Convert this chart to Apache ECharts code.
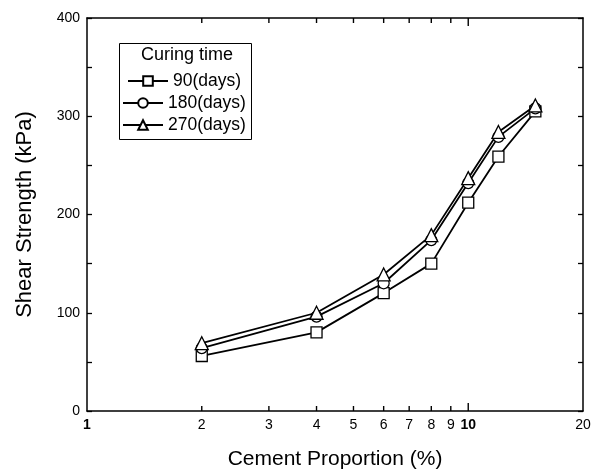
<!DOCTYPE html>
<html>
<head>
<meta charset="utf-8">
<script src="https://cdn.jsdelivr.net/npm/echarts@6/dist/echarts.min.js"></script>
<style>
  html, body { margin: 0; padding: 0; background: #fff; }
  #chart { width: 599px; height: 470px; }
</style>
</head>
<body>
<div id="chart"></div>
<script>
// Cement proportion (%) and shear strength (kPa) per curing time
const cementProportion = [2, 4, 6, 8, 10, 12, 15];
const strength90 = [56, 80, 120, 150, 212, 259, 305];
const strength180 = [64, 96, 130, 174, 232, 279, 308];
const strength270 = [69, 100, 139, 179, 237, 284, 311];

const seriesNames = ['90(days)', '180(days)', '270(days)'];
const legendTitle = 'Curing time';
const xLabelValues = [1, 2, 3, 4, 5, 6, 7, 8, 9, 10, 20];
const xTickValues = [2, 3, 4, 5, 6, 7, 8, 9, 10];
const xMajorTick = 10;
const yMin = 0;
const yMax = 400;

const FONT = 'Liberation Sans, Arial, sans-serif';

function pairs(xs, ys) {
  return xs.map((x, i) => [x, ys[i]]);
}

const chart = echarts.init(document.getElementById('chart'));

function axisLine() {
  return { show: true, onZero: false, lineStyle: { color: '#000', width: 1.5 } };
}

// Log-scaled x axis; only the bottom one carries visible labels
function logAxis(pos, showLabels) {
  return {
    type: 'log',
    logBase: 10,
    position: pos,
    min: 1,
    max: 20,
    axisLine: axisLine(),
    axisTick: { show: false },
    axisLabel: showLabels ? {
      show: true,
      customValues: xLabelValues,
      margin: 7,
      color: '#000',
      fontFamily: FONT,
      fontSize: 14,
      formatter: function (v) {
        return (v === 1 || v === 10) ? '{b|' + v + '}' : String(v);
      },
      rich: { b: { fontWeight: 'bold', fontFamily: FONT, fontSize: 14, color: '#000' } }
    } : { show: false },
    splitLine: { show: false }
  };
}

function valueAxis(pos, withLabels) {
  return {
    type: 'value',
    position: pos,
    min: yMin,
    max: yMax,
    interval: 50,
    axisLine: axisLine(),
    axisTick: { show: true, inside: true, length: 5, lineStyle: { color: '#000', width: 1.3 } },
    axisLabel: withLabels ? {
      show: true,
      margin: 7,
      color: '#000',
      fontFamily: FONT,
      fontSize: 14,
      formatter: function (v) { return v % 100 === 0 ? String(v) : ''; }
    } : { show: false },
    splitLine: { show: false }
  };
}

const xAxes = [logAxis('bottom', true), logAxis('top', false)];
xAxes[0].name = 'Cement Proportion (%)';
xAxes[0].nameLocation = 'middle';
xAxes[0].nameGap = 38;
xAxes[0].nameTextStyle = { fontFamily: FONT, fontSize: 21, color: '#000' };

const yAxes = [valueAxis('left', true), valueAxis('right', false)];
yAxes[0].name = 'Shear Strength (kPa)';
yAxes[0].nameLocation = 'middle';
yAxes[0].nameGap = 51;
yAxes[0].nameTextStyle = { fontFamily: FONT, fontSize: 22, color: '#000' };

function lineSeries(name, ys, symbol, size) {
  return {
    name: name,
    type: 'line',
    xAxisIndex: 0,
    yAxisIndex: 0,
    data: pairs(cementProportion, ys),
    symbol: symbol,
    symbolSize: size,
    showAllSymbol: true,
    lineStyle: { color: '#000', width: 1.8 },
    itemStyle: { color: '#fff', borderColor: '#000', borderWidth: 1.3 },
    emphasis: { disabled: true },
    animation: false
  };
}

// Inward tick marks on the bottom and top x axis lines, positioned by the log scale
const xTickSeries = {
  type: 'custom',
  xAxisIndex: 0,
  yAxisIndex: 0,
  silent: true,
  clip: false,
  z: 5,
  data: xTickValues.map(v => [v, yMin]),
  encode: { x: 0, y: 1 },
  renderItem: function (params, api) {
    const v = api.value(0);
    const len = v === xMajorTick ? 8 : 5;
    const bottom = api.coord([v, yMin]);
    const top = api.coord([v, yMax]);
    const style = { stroke: '#000', lineWidth: 1.4 };
    return {
      type: 'group',
      children: [
        { type: 'line', shape: { x1: bottom[0], y1: bottom[1], x2: bottom[0], y2: bottom[1] - len }, style: style },
        { type: 'line', shape: { x1: top[0], y1: top[1], x2: top[0], y2: top[1] + len }, style: style }
      ]
    };
  }
};

const legendText = { fontFamily: FONT, fontSize: 17.5, color: '#000' };

chart.setOption({
  animation: false,
  backgroundColor: '#fff',
  grid: { left: 87, right: 16, top: 18, bottom: 59, containLabel: false, outerBoundsMode: 'none' },
  xAxis: xAxes,
  yAxis: yAxes,
  legend: [
    {
      data: [seriesNames[0]],
      orient: 'vertical',
      left: 122,
      top: 67,
      itemWidth: 40,
      itemHeight: 12,
      padding: 5,
      textStyle: legendText,
      selectedMode: false
    },
    {
      data: [seriesNames[1], seriesNames[2]],
      orient: 'vertical',
      left: 117,
      top: 89,
      itemWidth: 40,
      itemHeight: 12,
      itemGap: 4,
      padding: 5,
      textStyle: legendText,
      selectedMode: false
    }
  ],
  graphic: [
    {
      type: 'rect',
      left: 117,
      top: 41,
      shape: { width: 132, height: 96 },
      style: { fill: 'none', stroke: '#000', lineWidth: 1 },
      z: 100
    },
    {
      type: 'text',
      left: 141,
      top: 46,
      style: { text: legendTitle, fontFamily: FONT, fontSize: 18, fill: '#000' },
      z: 100
    }
  ],
  series: [
    xTickSeries,
    lineSeries(seriesNames[0], strength90, 'rect', 11),
    lineSeries(seriesNames[1], strength180, 'circle', 11),
    lineSeries(seriesNames[2], strength270, 'triangle', 13)
  ]
});
</script>
</body>
</html>
